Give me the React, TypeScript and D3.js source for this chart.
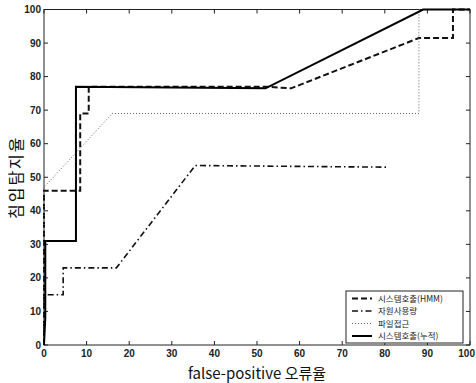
import React from "react";
import * as d3 from "d3";

// tick labels
const xTicks = [0, 10, 20, 30, 40, 50, 60, 70, 80, 90, 100];
const yTicks = [0, 10, 20, 30, 40, 50, 60, 70, 80, 90, 100];

// 시스템호출(HMM) - dashed
const hmmX = [0, 0, 8.5, 8.5, 10.5, 10.5, 52, 58, 88, 96, 96, 100];
const hmmY = [0, 46, 46, 69, 69, 77, 77, 76.5, 91.5, 91.5, 100, 100];

// 자원사용량 - dash-dot
const resX = [0, 0, 4.5, 4.5, 17, 35.5, 81];
const resY = [0, 15, 15, 23, 23, 53.5, 53];

// 파일접근 - dotted
const fileX = [0, 0, 16, 88, 88, 100];
const fileY = [0, 47, 69, 69, 100, 100];

// 시스템호출(누적) - solid
const sysX = [0, 0.3, 0.3, 7.5, 7.5, 52, 89, 100];
const sysY = [0, 8, 31, 31, 77, 76.5, 100, 100];

const labels = ["시스템호출(HMM)", "자원사용량", "파일접근", "시스템호출(누적)"];
const dashes = ["6,3", "6,3,1.5,3", "1,2", ""];
const widths = [2, 1.6, 1, 2];
const strokes = ["#111", "#111", "#666", "#000"];

const width = 476;
const height = 383;
const left = 44;
const right = 470;
const top = 9.5;
const bottom = 345;

export default function App() {
  const x = d3.scaleLinear().domain([0, 100]).range([left, right]);
  const y = d3.scaleLinear().domain([0, 100]).range([bottom, top]);

  const line = d3
    .line<[number, number]>()
    .x((d) => x(d[0]))
    .y((d) => y(d[1]));

  const series = [
    d3.zip(hmmX, hmmY),
    d3.zip(resX, resY),
    d3.zip(fileX, fileY),
    d3.zip(sysX, sysY),
  ] as [number, number][][];

  const font = "'Liberation Sans', Arial, sans-serif";
  const kfont = "'Noto Sans CJK KR', sans-serif";

  // legend box
  const lx = 346;
  const ly = 291;
  const lw = 117;
  const lh = 52;
  const rowH = 12.5;

  return (
    <svg
      width={width}
      height={height}
      style={{ position: "absolute", left: 0, top: 0, background: "#fff" }}
    >
      <rect x={left} y={top} width={right - left} height={bottom - top} fill="#fff" stroke="#222" strokeWidth={1} />

      {/* ticks, inward on all sides */}
      {xTicks.map((t, i) => {
        const last = i === xTicks.length - 1;
        return (
          <g key={"x" + t}>
            <line x1={x(t)} x2={x(t)} y1={bottom} y2={bottom - 4} stroke="#222" />
            <line x1={x(t)} x2={x(t)} y1={top} y2={top + 4} stroke="#222" />
            <text
              x={last ? width - 1 : x(t)}
              y={bottom + 12}
              textAnchor={last ? "end" : "middle"}
              fontFamily={font}
              fontSize={10}
              fontWeight="bold"
              fill="#222"
            >
              {t}
            </text>
          </g>
        );
      })}
      {yTicks.map((t) => (
        <g key={"y" + t}>
          <line x1={left} x2={left + 4} y1={y(t)} y2={y(t)} stroke="#222" />
          <line x1={right} x2={right - 4} y1={y(t)} y2={y(t)} stroke="#222" />
          <text
            x={left - 3}
            y={y(t) + 3.5}
            textAnchor="end"
            fontFamily={font}
            fontSize={10}
            fontWeight="bold"
            fill="#222"
          >
            {t}
          </text>
        </g>
      ))}

      {series.map((s, i) => (
        <path
          key={i}
          d={line(s) || ""}
          fill="none"
          stroke={strokes[i]}
          strokeWidth={widths[i]}
          strokeDasharray={dashes[i] || undefined}
        />
      ))}

      {/* legend */}
      <rect x={lx} y={ly} width={lw} height={lh} fill="#fff" stroke="#222" strokeWidth={1} />
      {labels.map((l, i) => (
        <g key={l}>
          <line
            x1={lx + 6}
            x2={lx + 26}
            y1={ly + 7.5 + i * rowH}
            y2={ly + 7.5 + i * rowH}
            stroke={strokes[i]}
            strokeWidth={widths[i]}
            strokeDasharray={dashes[i] || undefined}
          />
          <text x={lx + 32} y={ly + 10.5 + i * rowH} fontFamily={kfont} fontSize={8.5} fill="#222">
            {l}
          </text>
        </g>
      ))}

      {/* axis titles */}
      <text
        x={(left + right) / 2}
        y={379}
        textAnchor="middle"
        fontFamily={kfont}
        fontSize={15}
        fill="#111"
      >
        false-positive 오류율
      </text>
      <text
        transform={`translate(22,${(top + bottom) / 2}) rotate(-90)`}
        textAnchor="middle"
        fontFamily={kfont}
        fontSize={16}
        letterSpacing={2}
        fill="#111"
      >
        침입탐지율
      </text>
    </svg>
  );
}
